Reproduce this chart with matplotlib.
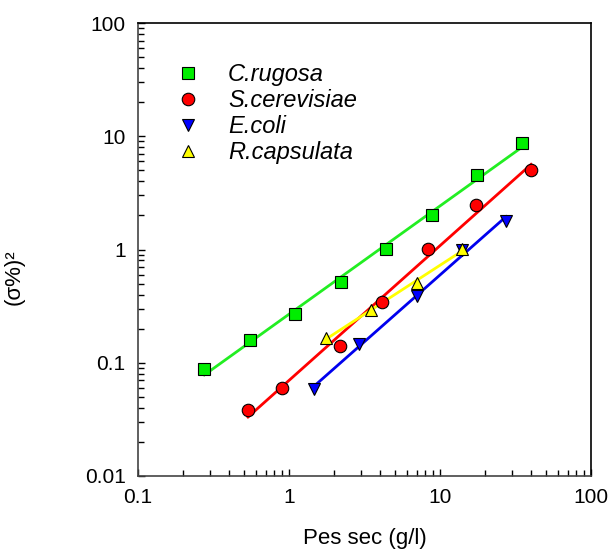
import numpy as np
import matplotlib
matplotlib.use("Agg")
import matplotlib.pyplot as plt
from matplotlib.ticker import LogLocator, FixedLocator, NullFormatter

plt.rcParams['font.family'] = ['Liberation Sans', 'DejaVu Sans']

names = ["C.rugosa", "S.cerevisiae", "E.coli", "R.capsulata"]
x_rug = [0.275, 0.55, 1.1, 2.2, 4.4, 8.8, 17.6, 35.0]
y_rug = [0.088, 0.159, 0.27, 0.516, 1.01, 2.02, 4.55, 8.7]
x_cer = [0.535, 0.90, 2.18, 4.13, 8.33, 17.3, 40.1]
y_cer = [0.038, 0.060, 0.141, 0.344, 1.01, 2.47, 5.04]
x_col = [1.46, 2.91, 7.04, 14.0, 27.4]
y_col = [0.0586, 0.146, 0.388, 0.99, 1.79]
x_cap = [1.76, 3.49, 7.04, 14.0]
y_cap = [0.165, 0.292, 0.506, 1.01]
xticks = [0.1, 1, 10, 100]
xticklabels = ["0.1", "1", "10", "100"]
yticks = [0.01, 0.1, 1, 10, 100]
yticklabels = ["0.01", "0.1", "1", "10", "100"]

series = [
    (x_rug, y_rug, 's', '#00ee00', '#22ee22', 8),
    (x_cer, y_cer, 'o', '#ff0000', '#ff0000', 9),
    (x_col, y_col, 'v', '#0000ff', '#0000ee', 8),
    (x_cap, y_cap, '^', '#ffff00', '#ffff00', 8),
]

fig = plt.figure(figsize=(6.11, 5.49), dpi=100)
ax = fig.add_axes([0.2259, 0.133, 0.7414, 0.825])
ax.set_xscale('log')
ax.set_yscale('log')
ax.set_xlim(0.1, 100)
ax.set_ylim(0.01, 100)

for (xs, ys, m, fc, lc, ms), name in zip(series, names):
    lx, ly = np.log10(xs), np.log10(ys)
    b, a = np.polyfit(lx, ly, 1)
    xf = np.array([min(xs), max(xs)])
    ax.plot(xf, 10 ** (a + b * np.log10(xf)), color=lc, lw=2, zorder=2)
    ax.plot(xs, ys, ls='none', marker=m, ms=ms, mfc=fc, mec='black', mew=0.8,
            zorder=3, label=name)

leg = ax.legend(loc='upper left', bbox_to_anchor=(0.084, 0.911), frameon=False,
                prop={'style': 'italic', 'size': 17}, handlelength=1.0,
                handletextpad=1.2, labelspacing=0.12, borderaxespad=0,
                borderpad=0)

ax.xaxis.set_major_locator(FixedLocator(xticks))
ax.set_xticklabels(xticklabels)
ax.yaxis.set_major_locator(FixedLocator(yticks))
ax.set_yticklabels(yticklabels)
ax.xaxis.set_minor_locator(LogLocator(base=10, subs=np.arange(2, 10)))
ax.yaxis.set_minor_locator(LogLocator(base=10, subs=np.arange(2, 10)))
ax.xaxis.set_minor_formatter(NullFormatter())
ax.yaxis.set_minor_formatter(NullFormatter())
ax.tick_params(which='both', direction='in', top=False, right=False,
               labelsize=15, width=1)
ax.tick_params(which='major', length=5, pad=9)
ax.tick_params(which='minor', length=4)
for s in ax.spines.values():
    s.set_linewidth(1.2)
ax.spines['left'].set_color('#444444')
ax.spines['bottom'].set_color('#444444')

ax.set_xlabel("Pes sec (g/l)", fontsize=16, labelpad=15)
ax.set_ylabel("(σ%)²", fontsize=16)
ax.yaxis.set_label_coords(-0.25, 0.44)

fig.savefig("out.png", dpi=100)
